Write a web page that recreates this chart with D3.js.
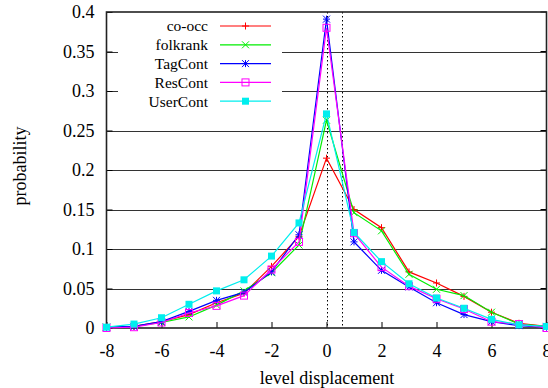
<!DOCTYPE html>
<html>
<head>
<meta charset="utf-8">
<script src="https://cdn.jsdelivr.net/npm/d3@7"></script>
<style>
  body { margin: 0; background: white; }
  svg { display: block; font-family: "Liberation Serif", "DejaVu Serif", serif; }
</style>
</head>
<body>
<svg id="chart" width="548" height="388"></svg>
<script>
// level displacement values
const displacement = [-8, -7, -6, -5, -4, -3, -2, -1, 0, 1, 2, 3, 4, 5, 6, 7, 8];

// probability per series
const coOcc    = [0.001, 0.002, 0.008, 0.017, 0.032, 0.044, 0.078, 0.116, 0.215, 0.150, 0.127, 0.071, 0.057, 0.040, 0.020, 0.006, 0.002];
const folkrank = [0.001, 0.002, 0.007, 0.014, 0.029, 0.047, 0.070, 0.105, 0.263, 0.146, 0.123, 0.068, 0.049, 0.041, 0.020, 0.005, 0.002];
const tagCont  = [0.001, 0.002, 0.008, 0.021, 0.035, 0.045, 0.071, 0.118, 0.391, 0.109, 0.073, 0.052, 0.032, 0.017, 0.008, 0.003, 0.001];
const resCont  = [0.000, 0.001, 0.007, 0.019, 0.028, 0.041, 0.074, 0.109, 0.380, 0.120, 0.077, 0.053, 0.037, 0.024, 0.008, 0.005, 0.000];
const userCont = [0.001, 0.005, 0.013, 0.030, 0.047, 0.061, 0.091, 0.133, 0.271, 0.121, 0.084, 0.056, 0.038, 0.025, 0.011, 0.004, 0.002];

const seriesNames = ["co-occ", "folkrank", "TagCont", "ResCont", "UserCont"];
const seriesValues = [coOcc, folkrank, tagCont, resCont, userCont];

const xTicks = [-8, -6, -4, -2, 0, 2, 4, 6, 8];
const xTickLabels = ["-8", "-6", "-4", "-2", "0", "2", "4", "6", "8"];
const yTicks = [0, 0.05, 0.1, 0.15, 0.2, 0.25, 0.3, 0.35, 0.4];
const yTickLabels = ["0", "0.05", "0.1", "0.15", "0.2", "0.25", "0.3", "0.35", "0.4"];
const markerLines = [0, 0.55]; // the two dotted verticals

const svg = d3.select("#chart");
const plotLeft = 106.5, plotRight = 546.5, plotTop = 12, plotBottom = 328;

const x = d3.scaleLinear().domain([-8, 8]).range([plotLeft, plotRight]);
const y = d3.scaleLinear().domain([0, 0.4]).range([plotBottom, plotTop]);

const colors = ["#ff0000", "#00ee00", "#0000ff", "#ff00ff", "#00eeee"];
const shapes = ["plus", "cross", "star", "openSquare", "square"];

// legend box, grid lines are cut around it
const legendBox = { x0: 118, x1: 282, y0: 16, y1: 110 };

// horizontal grid
yTicks.slice(1, -1).forEach(t => {
    const yy = Math.round(y(t)) + 0.5;
    const segs = (yy > legendBox.y0 && yy < legendBox.y1)
        ? [[plotLeft, legendBox.x0], [legendBox.x1, plotRight]]
        : [[plotLeft, plotRight]];
    segs.forEach(s => {
        svg.append("line")
            .attr("x1", s[0]).attr("x2", s[1])
            .attr("y1", yy).attr("y2", yy)
            .attr("stroke", "#333").attr("stroke-width", 1);
    });
});

// dotted verticals
markerLines.forEach(v => {
    svg.append("line")
        .attr("x1", Math.round(x(v)) + 0.5).attr("x2", Math.round(x(v)) + 0.5)
        .attr("y1", plotTop).attr("y2", plotBottom)
        .attr("stroke", "#000").attr("stroke-width", 1)
        .attr("stroke-dasharray", "1.5,2.5");
});

// axes with inward ticks
const xAxis = d3.axisBottom(x).tickValues(xTicks).tickSize(-6).tickPadding(16)
    .tickFormat((d, i) => xTickLabels[i]);
const yAxis = d3.axisLeft(y).tickValues(yTicks).tickSize(-6).tickPadding(12)
    .tickFormat((d, i) => yTickLabels[i]);

const gx = svg.append("g").attr("transform", `translate(0,${plotBottom})`).call(xAxis);
const gy = svg.append("g").attr("transform", `translate(${plotLeft},0)`).call(yAxis);
[gx, gy].forEach(g => {
    g.attr("font-family", "'Liberation Serif', serif").attr("font-size", 18);
    g.select(".domain").remove();
    g.selectAll("line").attr("stroke", "#000");
    g.selectAll("text").attr("fill", "#000");
});

// right side ticks
svg.selectAll(".rtick").data(yTicks).enter().append("line")
    .attr("x1", plotRight).attr("x2", plotRight - 6)
    .attr("y1", d => y(d)).attr("y2", d => y(d))
    .attr("stroke", "#000");

// frame
svg.append("rect")
    .attr("x", plotLeft).attr("y", plotTop)
    .attr("width", plotRight - plotLeft).attr("height", plotBottom - plotTop)
    .attr("fill", "none").attr("stroke", "#222").attr("stroke-width", 1.6);

// marker drawing
function drawMarker(g, shape, cx, cy, color) {
    const s = 3.5;
    if (shape === "plus" || shape === "star") {
        g.append("path").attr("d", `M${cx - s},${cy}H${cx + s}M${cx},${cy - s}V${cy + s}`)
            .attr("stroke", color).attr("stroke-width", 1).attr("fill", "none");
    }
    if (shape === "cross" || shape === "star") {
        g.append("path").attr("d", `M${cx - s},${cy - s}L${cx + s},${cy + s}M${cx - s},${cy + s}L${cx + s},${cy - s}`)
            .attr("stroke", color).attr("stroke-width", 1).attr("fill", "none");
    }
    if (shape === "openSquare") {
        g.append("rect").attr("x", cx - s).attr("y", cy - s).attr("width", 2 * s).attr("height", 2 * s)
            .attr("fill", "none").attr("stroke", color).attr("stroke-width", 1);
    }
    if (shape === "square") {
        g.append("rect").attr("x", cx - s).attr("y", cy - s).attr("width", 2 * s).attr("height", 2 * s)
            .attr("fill", color);
    }
}

const line = d3.line().x(d => x(d[0])).y(d => y(d[1]));

seriesValues.forEach((vals, i) => {
    const pts = displacement.map((d, j) => [d, vals[j]]);
    const g = svg.append("g");
    g.append("path").datum(pts)
        .attr("d", line)
        .attr("fill", "none")
        .attr("stroke", colors[i])
        .attr("stroke-width", 1.2);
    pts.forEach(p => drawMarker(g, shapes[i], x(p[0]), y(p[1]), colors[i]));
});

// legend
const legend = svg.append("g");
seriesNames.forEach((name, i) => {
    const ly = 26 + i * 18.8;
    legend.append("text")
        .attr("x", 208).attr("y", ly)
        .attr("dy", "0.35em")
        .attr("text-anchor", "end")
        .style("font-size", "15.5px")
        .text(name);
    legend.append("line")
        .attr("x1", 220).attr("x2", 271)
        .attr("y1", ly).attr("y2", ly)
        .attr("stroke", colors[i]).attr("stroke-width", 1.2);
    drawMarker(legend, shapes[i], 245.5, ly, colors[i]);
});

// axis titles
svg.append("text")
    .attr("x", 327).attr("y", 384)
    .attr("text-anchor", "middle")
    .style("font-size", "18px")
    .text("level displacement");

svg.append("text")
    .attr("transform", "translate(26,166) rotate(-90)")
    .attr("text-anchor", "middle")
    .style("font-size", "18px")
    .text("probability");
</script>
</body>
</html>
